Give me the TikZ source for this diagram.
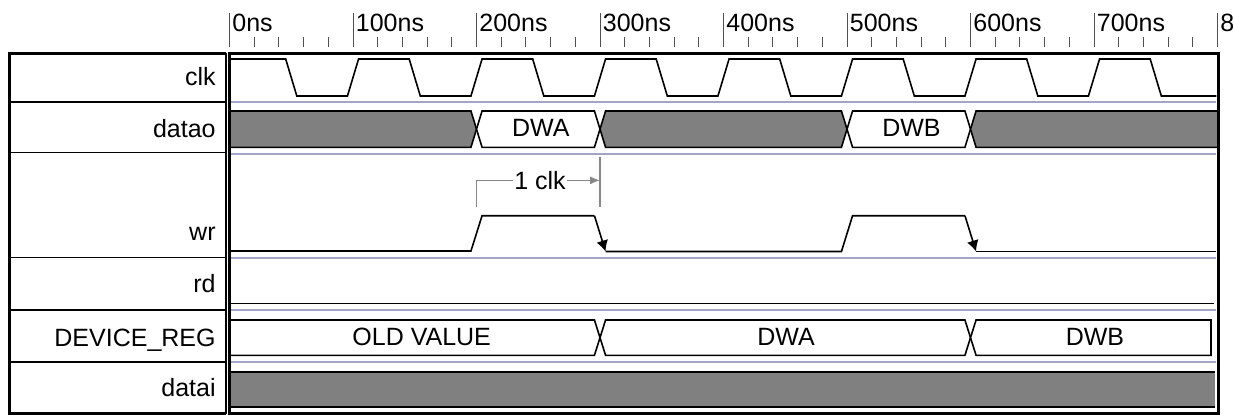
\documentclass[tikz,border=0pt]{standalone}
\usepackage{fontspec}
\setmainfont{Liberation Sans}
\usetikzlibrary{arrows.meta}
\definecolor{sepc}{RGB}{164,164,196}
\definecolor{busgray}{RGB}{128,128,128}
\definecolor{tickc}{RGB}{80,80,80}
\definecolor{annc}{RGB}{135,135,135}
\newcommand\bseg[5]{%
  \pgfmathsetmacro\bmid{(#3+#4)/2}%
  \filldraw[wave, fill=#5] (#1,\bmid) -- (#1+4.5,#3) -- (#2-4.5,#3) -- (#2,\bmid) -- (#2-4.5,#4) -- (#1+4.5,#4) -- cycle;}
\begin{document}
\begin{tikzpicture}[x=0.5pt,y=-0.5pt, font=\fontsize{12.5}{15}\selectfont,
  lbl/.style={anchor=base east, inner sep=0pt},
  ticklbl/.style={anchor=base west, inner sep=0pt},
  wave/.style={line width=0.8pt, line join=miter},
  frame/.style={line width=1.5pt},
  sep/.style={draw=sepc, line width=1pt},
  bustxt/.style={anchor=base, inner sep=0pt},
  tickln/.style={draw=tickc, line width=0.5pt},
  ann/.style={draw=annc, line width=0.6pt},
  wrarrow/.style={-{Latex[length=5.5pt,width=6pt]}}
]
\useasboundingbox (0,0) rectangle (1234,417);
\fill[white] (0,0) rectangle (1234,417);

% label column
\draw[line width=1.5pt] (226,53.5) -- (9.5,53.5) -- (9.5,413.5) -- (226,413.5);
\draw[line width=1pt] (225.8,53.5) -- (225.8,413.5);
\foreach \yy in {101.7,152.5,257.5,309.7,362}
  \draw[line width=0.8pt] (9.5,\yy) -- (225.8,\yy);
\node[lbl] (lclk) at (216,85) {clk};
\node[lbl] (ldatao) at (216,137.7) {datao};
\node[lbl] (lwr) at (216,240.7) {wr};
\node[lbl] (lrd) at (216,292.7) {rd};
\node[lbl] (ldev) at (216,346.7) {DEVICE\_REG};
\node[lbl] (ldatai) at (216,396.7) {datai};

\begin{scope}[shift={(229.5,0)}, x=0.6175pt]
  % time axis
  \foreach \t in {0,100,...,800} {
    \draw[tickln] (\t,13) -- (\t,47);
    \node[ticklbl, xshift=1.25pt] (tk\t) at (\t,31.7) {\t ns};
  }
  \foreach \m in {0,100,...,700}
    \foreach \k in {20,40,60,80}
      \draw[tickln] (\m+\k,37) -- (\m+\k,47);

  \begin{scope}
    \clip (0,53) rectangle (799.5,414);
    % row separators
    \foreach \yy in {101.7,154,257.5,310,362}
      \draw[sep] (1,\yy) -- (799,\yy);

    % clk
    \draw[wave] (0,59) \foreach \c in {0,100,...,600} {
        -- (\c+45.5,59) -- (\c+54.5,96) -- (\c+95.5,96) -- (\c+104.5,59)}
      -- (745.5,59) -- (754.5,96) -- (799,96);

    % datao
    \bseg{-100}{200}{111}{147.3}{busgray}
    \bseg{200}{300}{111}{147.3}{white}
    \bseg{300}{500}{111}{147.3}{busgray}
    \bseg{500}{600}{111}{147.3}{white}
    \bseg{600}{900}{111}{147.3}{busgray}
    \node[bustxt] (dwa1) at (252,136.7) {DWA};
    \node[bustxt] (dwb1) at (552.2,136.7) {DWB};

    % wr
    \draw[wave] (0,251) -- (195.5,251) -- (204.5,215.7) -- (295.5,215.7);
    \draw[wave, wrarrow] (295.5,215.7) -- (304.5,251.5);
    \draw[wave] (304.5,251.5) -- (495.5,251.5) -- (504.5,215.7) -- (595.5,215.7);
    \draw[wave, wrarrow] (595.5,215.7) -- (604.5,251.5);
    \draw[wave] (604.5,251.5) -- (799,251.5);

    % 1 clk annotation
    \coordinate (a1) at (200,206.7);
    \coordinate (a2) at (300,206.7);
    \coordinate (a2t) at (300,157);
    \node[anchor=base, inner sep=0.5pt] (onec) at (251.4,189.3) {1 clk};
    \draw[ann] (a1) |- (onec.west);
    \draw[ann, -{Latex[length=5pt,width=4pt]}] (onec.east) -- (onec.east -| a2);
    \draw[ann] (a2) -- (a2t);

    % rd
    \draw[wave] (0,303.3) -- (797.3,303.3);

    % DEVICE_REG
    \bseg{-100}{300}{320}{355.3}{white}
    \bseg{300}{600}{320}{355.3}{white}
    \filldraw[wave, fill=white] (600,337.65) -- (604.5,320) -- (794.7,320) -- (794.7,355.3) -- (604.5,355.3) -- cycle;
    \node[bustxt] (oldv) at (155.6,345) {OLD VALUE};
    \node[bustxt] (dwa2) at (450.6,345) {DWA};
    \node[bustxt] (dwb2) at (700.8,345) {DWB};

    % datai
    \fill[busgray] (0,371.7) rectangle (797.6,407);
    \draw[wave] (0,371.7) -- (797.6,371.7);
    \draw[wave] (0,407) -- (797.6,407);
  \end{scope}
\end{scope}

% waveform frame
\draw[frame] (229.5,53.5) rectangle (1218,413.5);
\end{tikzpicture}
\end{document}
